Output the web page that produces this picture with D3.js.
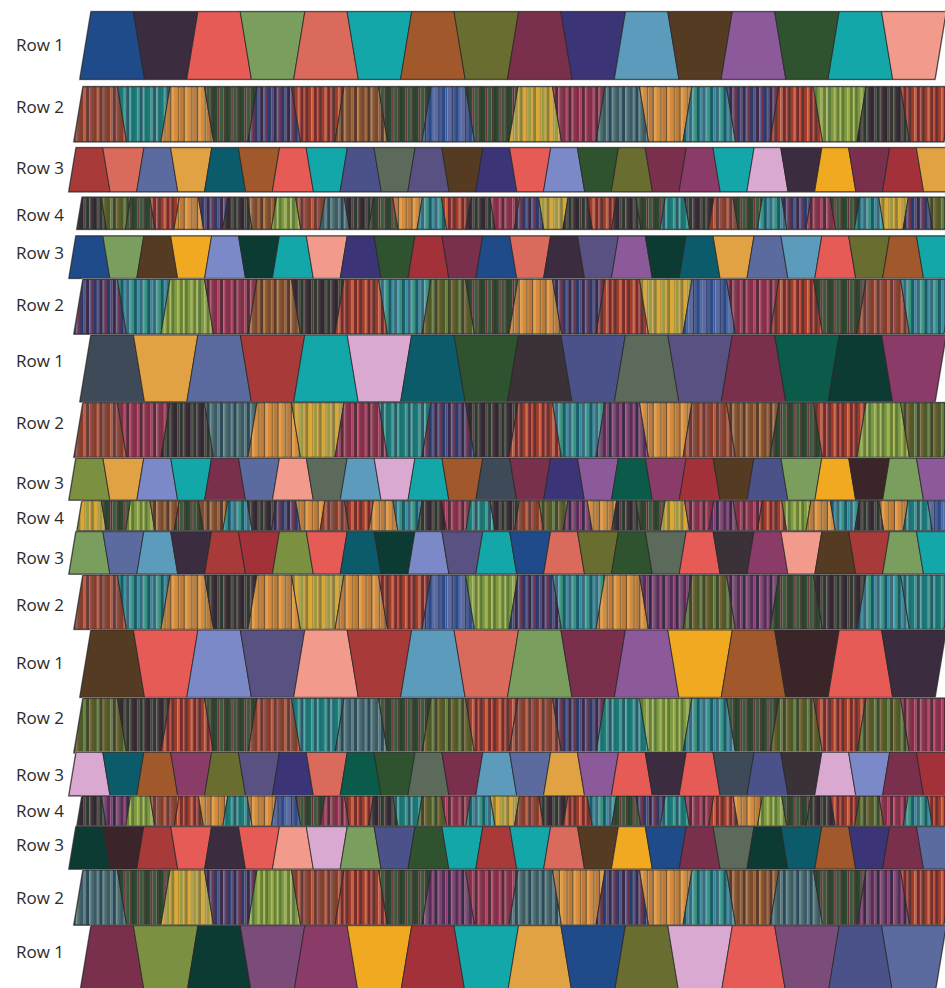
<!DOCTYPE html>
<html>
<head>
<meta charset="utf-8">
<script src="https://d3js.org/d3.v7.min.js"></script>
<style>
body { margin: 0; background: #fff; }
svg { display: block; }
</style>
</head>
<body>
<script>
// which row each band belongs to, top to bottom
const bandRows = [1, 2, 3, 4, 3, 2, 1, 2, 3, 4, 3, 2, 1, 2, 3, 4, 3, 2, 1];

// solid colours used by Row 1 and Row 3
const solid = {
    blue: "#1f4b8b", plumDark: "#3b2c40", coral: "#e65b55", sage: "#799e5e",
    salmon: "#d96a5c", teal: "#14a7aa", rust: "#a1582b", olive: "#696d2f",
    maroon: "#7a2f4c", indigo: "#3b3578", steel: "#5c9bbc", umber: "#553b22",
    violet: "#8c5a9a", pine: "#30532f", blush: "#f29a8c", mustard: "#e0a243",
    petrol: "#0b5b6a", slate: "#5b6b9f", sagegray: "#5b6a5b", peri: "#7b89c8",
    brick: "#a83a3a", crimson: "#a3313a", plum: "#8b3b68", lilac: "#d9a9d1",
    amber: "#f2a922", forest: "#0b3b33", navyGray: "#3f4a58", dusk: "#4b5189",
    mauveGray: "#595181", wine: "#3b2529", jade: "#0b5b4b", oliveGreen: "#7b9141",
    orchid: "#7b4b79", charcoal: "#3b3139"
};

// stripe palettes used by Row 2 and Row 4
const stripes = {
    rust:   ["#8a3a2a", "#b85a3a", "#6a3a34", "#a04848", "#7a4a36"],
    teal:   ["#1a7a7a", "#3a9a8a", "#2a5a6a", "#4aa89a", "#1e6e72"],
    amber:  ["#d88a3c", "#8a6a30", "#c07a38", "#6a4e2c", "#e0a050"],
    forest: ["#2a4a30", "#6a2a38", "#3a5a3a", "#4a3a34", "#2e3e2c"],
    navy:   ["#2a3a6a", "#4a4a7a", "#3a2a4a", "#5e5e90", "#6a3448"],
    ember:  ["#a03a2a", "#c8603a", "#7a2a2a", "#b84a36", "#5e3434"],
    brown:  ["#7a4a2a", "#9a5c30", "#5a3a2a", "#b87a40", "#80553a"],
    blue:   ["#2a4a8a", "#3a5a9a", "#5a6aa0", "#2a3a6a", "#4a5a8a"],
    gold:   ["#d8aa34", "#b88a34", "#9a9a40", "#d09a40", "#8a7e3a"],
    berry:  ["#8a2a4a", "#a83e5c", "#5a2a3a", "#b84c6a", "#7a3a4a"],
    slate:  ["#3a5a6a", "#5a7a78", "#2a4a5a", "#66888a", "#4a6a6a"],
    lime:   ["#80983e", "#98b04c", "#6a8030", "#a8b85a", "#5a7a3a"],
    dusk:   ["#2e2a30", "#4e3a3a", "#2a3a30", "#5a4a46", "#3a2e38"],
    plum:   ["#5a2a5a", "#8a3a6a", "#3a2a4a", "#9a4c7a", "#6a4a6a"],
    moss:   ["#4a5a2a", "#6a7a3a", "#3a4a2a", "#806436", "#5a5a2a"],
    sea:    ["#1a5a6a", "#2a8a9a", "#3a6a7a", "#4aa4b0", "#3a9078"]
};

const band01 = ["blue", "plumDark", "coral", "sage", "salmon", "teal", "rust", "olive", "maroon", "indigo", "steel", "umber", "violet", "pine", "teal", "blush"];
const band02 = ["rust", "teal", "amber", "forest", "navy", "ember", "brown", "forest", "blue", "forest", "gold", "berry", "slate", "amber", "sea", "navy", "ember", "lime", "dusk", "ember"];
const band03 = ["brick", "salmon", "slate", "mustard", "petrol", "rust", "coral", "teal", "dusk", "sagegray", "mauveGray", "umber", "indigo", "coral", "peri", "pine", "olive", "maroon", "plum", "teal", "lilac", "plumDark", "amber", "maroon", "crimson", "mustard"];
const band04 = ["dusk", "moss", "forest", "ember", "amber", "navy", "dusk", "brown", "lime", "rust", "slate", "dusk", "forest", "amber", "sea", "ember", "dusk", "berry", "navy", "gold", "dusk", "ember", "dusk", "forest", "teal", "dusk", "rust", "forest", "sea", "navy", "berry", "forest", "sea", "gold", "navy", "moss"];
const band05 = ["blue", "sage", "umber", "amber", "peri", "forest", "teal", "blush", "indigo", "pine", "crimson", "maroon", "blue", "salmon", "plumDark", "mauveGray", "violet", "forest", "petrol", "mustard", "slate", "steel", "coral", "olive", "rust", "teal"];
const band06 = ["navy", "sea", "lime", "berry", "brown", "dusk", "ember", "sea", "moss", "forest", "amber", "navy", "ember", "gold", "blue", "berry", "ember", "forest", "rust", "sea"];
const band07 = ["navyGray", "mustard", "slate", "brick", "teal", "lilac", "petrol", "pine", "charcoal", "dusk", "sagegray", "mauveGray", "maroon", "jade", "forest", "plum"];
const band08 = ["rust", "berry", "dusk", "slate", "amber", "gold", "berry", "teal", "navy", "dusk", "ember", "sea", "plum", "amber", "rust", "brown", "forest", "ember", "lime", "moss"];
const band09 = ["oliveGreen", "mustard", "peri", "teal", "maroon", "slate", "blush", "sagegray", "steel", "lilac", "teal", "rust", "navyGray", "maroon", "indigo", "violet", "jade", "plum", "crimson", "umber", "dusk", "sage", "amber", "wine", "sage", "violet"];
const band10 = ["gold", "forest", "lime", "brown", "forest", "brown", "sea", "dusk", "navy", "amber", "rust", "ember", "amber", "sea", "dusk", "berry", "teal", "dusk", "rust", "moss", "plum", "amber", "dusk", "forest", "gold", "berry", "plum", "berry", "ember", "lime", "amber", "sea", "dusk", "amber", "teal", "blue"];
const band11 = ["sage", "slate", "steel", "plumDark", "brick", "crimson", "oliveGreen", "coral", "petrol", "forest", "peri", "mauveGray", "teal", "blue", "salmon", "olive", "pine", "sagegray", "coral", "charcoal", "plum", "blush", "umber", "brick", "sage", "teal"];
const band12 = ["rust", "sea", "amber", "dusk", "amber", "gold", "amber", "ember", "blue", "lime", "navy", "sea", "amber", "plum", "moss", "plum", "forest", "dusk", "sea", "teal"];
const band13 = ["umber", "coral", "peri", "mauveGray", "blush", "brick", "steel", "salmon", "sage", "maroon", "violet", "amber", "rust", "wine", "coral", "plumDark"];
const band14 = ["moss", "dusk", "ember", "forest", "rust", "teal", "slate", "forest", "moss", "ember", "rust", "navy", "teal", "lime", "sea", "forest", "moss", "ember", "moss", "berry"];
const band15 = ["lilac", "petrol", "rust", "plum", "olive", "mauveGray", "indigo", "salmon", "jade", "pine", "sagegray", "maroon", "steel", "slate", "mustard", "violet", "coral", "plumDark", "coral", "navyGray", "dusk", "charcoal", "lilac", "peri", "maroon", "crimson"];
const band16 = ["dusk", "plum", "lime", "rust", "ember", "amber", "teal", "amber", "blue", "forest", "berry", "ember", "dusk", "teal", "moss", "berry", "sea", "gold", "rust", "dusk", "ember", "sea", "forest", "navy", "teal", "berry", "ember", "amber", "lime", "forest", "dusk", "ember", "moss", "berry", "sea", "ember"];
const band17 = ["forest", "wine", "brick", "coral", "plumDark", "coral", "blush", "lilac", "sage", "dusk", "pine", "teal", "brick", "teal", "salmon", "umber", "amber", "blue", "maroon", "sagegray", "forest", "petrol", "rust", "indigo", "maroon", "slate"];
const band18 = ["slate", "forest", "gold", "navy", "lime", "rust", "ember", "forest", "plum", "berry", "slate", "amber", "navy", "amber", "sea", "brown", "slate", "forest", "plum", "ember"];
const band19 = ["maroon", "oliveGreen", "forest", "orchid", "plum", "amber", "crimson", "teal", "mustard", "blue", "olive", "lilac", "coral", "orchid", "dusk", "slate"];

const bands = [band01, band02, band03, band04, band05, band06, band07, band08, band09, band10,
               band11, band12, band13, band14, band15, band16, band17, band18, band19];

// ---- layout ----
const width = 945, height = 988;
const bandTop = [11.7, 86.7, 147.7, 197.3, 236, 279.3, 335, 402.7, 458.3, 500.7, 531.7, 575, 630, 698.3, 752.3, 796, 826.7, 870, 925.7];
const bandBottom = [79.3, 141.7, 191.7, 229.3, 278.3, 334, 401.7, 457.3, 500, 530.7, 574, 629.3, 697.3, 752.7, 795.7, 826, 869, 925, 993];
const labelMid = [45, 107, 167.5, 214.5, 252.5, 305, 361, 423, 483, 517.5, 558, 605, 663, 718, 775, 811, 845, 898, 951.5];
const rowStart = {1: 85.5, 2: 78.5, 3: 72.5, 4: 79.5};    // midline x of the left edge
const rowPitch = {1: 53.44, 2: 43.5, 3: 33.9, 4: 24.3};   // trapezoid width at midline
const slant = 0.165;                                      // top/bottom offset relative to band height
const stripeW = [3.2, 2, 3.8, 1.6, 2.8];

let svg = d3.select("body").append("svg")
    .attr("width", width).attr("height", height)
    .attr("viewBox", [0, 0, width, height]);

let defs = svg.append("defs");
Object.keys(stripes).forEach(function(name) {
    let cols = stripes[name];
    let total = d3.sum(cols, (c, i) => stripeW[i % stripeW.length]);
    let p = defs.append("pattern")
        .attr("id", "st-" + name)
        .attr("patternUnits", "userSpaceOnUse")
        .attr("width", total).attr("height", 10);
    let x = 0;
    cols.forEach(function(c, i) {
        let w = stripeW[i % stripeW.length];
        p.append("rect").attr("x", x).attr("y", 0).attr("width", w + 0.05).attr("height", 10).attr("fill", c);
        x += w;
    });
});

let y = d3.scaleLinear().domain([0, height]).range([0, height]);

bands.forEach(function(cols, b) {
    let row = bandRows[b];
    let y0 = y(bandTop[b]), y1 = y(bandBottom[b]);
    let h = y1 - y0;
    let n = cols.length;
    let x = d3.scaleLinear().domain([0, n]).range([rowStart[row], rowStart[row] + n * rowPitch[row]]);
    let d = slant * h / 2;
    let topX = i => x(i) + (i % 2 == 0 ? d : -d);
    let botX = i => x(i) + (i % 2 == 0 ? -d : d);
    let striped = (row == 2 || row == 4);

    let g = svg.append("g").attr("class", "band row" + row);

    // light outline of the band
    g.append("path")
        .attr("d", "M" + botX(0) + "," + y1 + "L" + topX(0) + "," + y0 +
                   "L" + topX(n) + "," + y0 + "L" + botX(n) + "," + y1 + "Z")
        .attr("fill", "none")
        .attr("stroke", "#9a9a9a")
        .attr("stroke-width", 2);

    g.selectAll("polygon")
        .data(cols)
        .enter()
        .append("polygon")
        .attr("points", (c, i) => [[topX(i), y0], [topX(i + 1), y0], [botX(i + 1), y1], [botX(i), y1]].join(" "))
        .attr("fill", c => striped ? "url(#st-" + c + ")" : solid[c])
        .attr("stroke", "#262626")
        .attr("stroke-width", 0.8)
        .attr("stroke-linejoin", "round");

    svg.append("text")
        .attr("x", 16)
        .attr("y", y(labelMid[b]) + 6)
        .attr("font-family", "Open Sans")
        .attr("font-size", "17px")
        .attr("fill", "#2b2b2b")
        .text("Row " + row);
});
</script>
</body>
</html>
